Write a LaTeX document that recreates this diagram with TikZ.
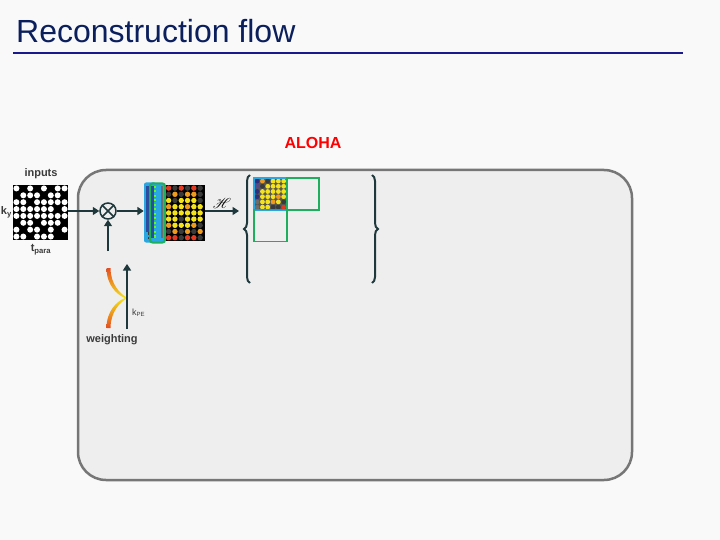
\documentclass[tikz,border=0pt]{standalone}
\usepackage{fontspec}
\setmainfont{Liberation Sans}
\usepackage{mathrsfs}
\usetikzlibrary{arrows.meta,decorations.pathreplacing}
\definecolor{bg}{HTML}{F9F9FA}
\definecolor{boxfill}{HTML}{EEEEEE}
\definecolor{boxline}{HTML}{767676}
\definecolor{titlec}{HTML}{0B1F5C}
\definecolor{rulec}{HTML}{1A1A8C}
\definecolor{arr}{HTML}{1F383C}
\definecolor{cR}{HTML}{E23A22}
\definecolor{cO}{HTML}{EE9A1E}
\definecolor{cY}{HTML}{F4E21C}
\definecolor{cK}{HTML}{3A3A3A}
\definecolor{cN}{HTML}{2E2E7C}
\definecolor{cP}{HTML}{55498A}
\definecolor{cG}{HTML}{6C6C6C}
\definecolor{lblue}{HTML}{2AA6E0}
\definecolor{dblue}{HTML}{2B4C9C}
\definecolor{gr}{HTML}{1DAF5E}
\begin{document}
\begin{tikzpicture}[x=1pt,y=-1pt,
  flow/.style={draw=arr,line width=2.8pt,-{Triangle[length=6.5pt,width=8pt]}},
  lbl/.style={font=\bfseries\fontsize{11}{12}\selectfont,text=cK,inner sep=0pt},
  gbox/.style={draw=gr,line width=1.8pt}]
\useasboundingbox (0,0) rectangle (720,540);
\fill[bg] (0,0) rectangle (720,540);
% title
\node[anchor=base west,inner sep=0pt,text=titlec,font=\fontsize{32}{36}\selectfont] (title) at (16,43) {Reconstruction flow};
\draw[rulec,line width=2pt] (13,53) -- (683,53);
% big box
\draw[boxline,fill=boxfill,line width=2.5pt,rounded corners=28pt] (78,170) rectangle (632,480);
\node[text=red,font=\bfseries\fontsize{16}{18}\selectfont,inner sep=0pt] (aloha) at (313,143) {ALOHA};
% inputs
\node[lbl] (inlbl) at (41,174) {inputs};
\node[fill=black,minimum width=55pt,minimum height=55pt,inner sep=0pt] (inp) at (40.5,212.5) {};
\foreach \row [count=\i] in {{1,0,1,0,1,0,1,1},{0,1,1,1,0,1,1,0},{1,1,0,1,1,1,1,1},{1,1,1,1,1,1,0,1},{1,1,1,1,1,1,1,1},{0,1,1,0,1,1,1,0},{1,0,1,1,0,1,0,1},{1,1,0,1,1,1,0,0}}
  \foreach \v [count=\j] in \row
    {\ifnum\v=1 \fill[white] (13+6.875*\j-3.44,185+6.875*\i-3.44) circle (3pt);\fi};
\node[lbl,anchor=east] (ky) at (12,212) {k\textsubscript{y}};
\node[lbl] (tp) at (41,250) {t\textsubscript{para}};
% otimes
\node[circle,draw=arr,line width=1.5pt,minimum size=16pt,inner sep=0pt] (ot) at (108,211) {};
\draw[arr,line width=1.5pt] (ot.north west) -- (ot.south east) (ot.north east) -- (ot.south west);
\draw[flow] (inp.east |- ot.west) -- (ot.west);
\coordinate (below) at (108,251);
\draw[flow] (below) -- (ot.south);
% stacked matrices
\node[fill=lblue,rounded corners=2pt,minimum width=12pt,minimum height=60pt,inner sep=0pt] (bl) at (150,212.5) {};
\fill[dblue] (146,186) rectangle (150,232);
\draw[cK,line width=0.5pt,dash pattern=on 3pt off 2pt] (148,232) -- (148,239);
\fill[lblue] (150,184) rectangle (164,242);
\fill[dblue] (151,186) rectangle (153.5,238);
\draw[green!60!yellow,line width=1.2pt,dash pattern=on 2pt off 2.5pt] (155,186) -- (155,238);
\fill[cG] (161,186) rectangle (163,238);
\node[gbox,line width=2pt,rounded corners=2.5pt,minimum width=15pt,minimum height=59pt,inner sep=0pt] (gb) at (157.5,213) {};
\draw[flow] (ot.east) -- (bl.west |- ot.east);
\node[fill=black,minimum width=39pt,minimum height=56pt,inner sep=0pt] (cm) at (185,213) {};
\foreach \row [count=\i] in {{cR,cK,cR,cK,cR,cK},{cK,cO,cK,cO,cO,cK},{cY,cK,cY,cY,cY,cK},{cO,cY,cY,cO,cY,cY},{cY,cY,cY,cY,cY,cY},{cY,cY,cK,cY,cY,cY},{cO,cY,cY,cY,cO,cK},{cK,cO,cK,cO,cK,cO},{cR,cR,cK,cR,cR,cK}}
  \foreach \v [count=\j] in \row
    {\fill[\v] (165.5+6.3*\j-3.15,185+6.2*\i-3.1) circle (2.7pt);};
% H arrow
\coordinate (hend) at (239,211);
\draw[flow] (cm.east |- hend) -- (hend);
\node[inner sep=0pt,font=\fontsize{14}{16}\selectfont] (H) at (222,203) {$\mathscr{H}$};
% braces
\draw[arr,line width=2pt,decorate,decoration={brace,amplitude=6pt}] (250,283) -- (250,175);
\draw[arr,line width=2pt,decorate,decoration={brace,amplitude=6pt}] (372,175) -- (372,283);
% small matrix
\node[fill=cG!80!black,minimum width=33pt,minimum height=32pt,inner sep=0pt] (sm) at (270.5,194) {};
\foreach \row [count=\i] in {{cN,cO,cK,cY,cY,cY},{cP,cK,cY,cY,cY,cY},{cN,cY,cY,cY,cY,cY},{cN,cY,cY,cY,cO,cY},{cG,cY,cY,cO,cY,cK},{cG,cY,cY,cK,cK,cR}}
  \foreach \v [count=\j] in \row
    {\fill[\v] (254.5+5.3*\j-2.65,178.5+5.2*\i-2.6) circle (2.4pt);};
\draw[lblue,line width=1.6pt] (254,178) rectangle (287,210);
\node[gbox,minimum width=32pt,minimum height=32pt,inner sep=0pt] (g1) at (303,194) {};
\node[gbox,minimum width=33pt,minimum height=32pt,inner sep=0pt] (g2) at (270.5,225.5) {};
% weighting
\shade[top color=cR!80!cO,bottom color=cR!80!cO,middle color=cY]
  (106.5,268) .. controls (106.5,285) and (117,295) .. (125,298)
  .. controls (117,301) and (106.5,311) .. (106.5,328) -- (110.5,328)
  .. controls (110.5,312) and (120,302) .. (127.5,298)
  .. controls (120,294) and (110.5,284) .. (110.5,268) -- cycle;
\coordinate (kb) at (127,329);
\coordinate (kt) at (127,264);
\draw[flow,line width=2pt] (kb) -- (kt);
\node[anchor=west,inner sep=0pt,text=cK,font=\fontsize{9}{10}\selectfont] (kpe) at (132,313) {k\textsubscript{PE}};
\node[lbl] (wl) at (112,340) {weighting};
\end{tikzpicture}
\end{document}
